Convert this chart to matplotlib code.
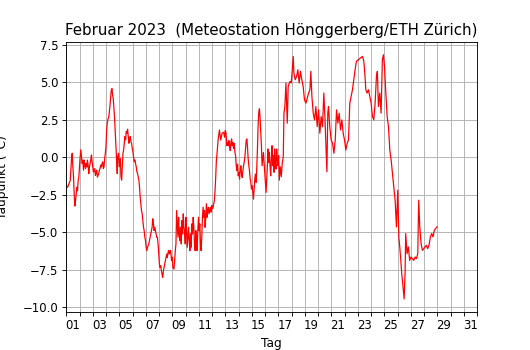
import numpy as np
import matplotlib.pyplot as plt

# Taupunkt Februar 2023, Tage seit 1. Feb 00:00
tag_w1 = [0.00, 0.10, 0.20, 0.30, 0.35, 0.40, 0.45, 0.50, 0.55, 0.60, 0.65, 0.70, 0.75, 0.80, 0.85, 0.90, 0.95,
          1.00, 1.05, 1.10, 1.15, 1.20, 1.25, 1.30, 1.35, 1.40, 1.45, 1.50, 1.55, 1.60, 1.65, 1.70, 1.75, 1.80, 1.85, 1.90, 1.95,
          2.00, 2.05, 2.10, 2.15, 2.20, 2.25, 2.30, 2.35, 2.40, 2.45, 2.50, 2.55, 2.60, 2.65, 2.70, 2.75, 2.80, 2.85, 2.90, 2.95,
          3.00, 3.05, 3.10, 3.15, 3.20, 3.25, 3.30, 3.35, 3.40, 3.45, 3.50, 3.55, 3.60, 3.65, 3.70, 3.75, 3.80, 3.85, 3.88, 3.95,
          4.00, 4.08, 4.13, 4.18, 4.23, 4.28, 4.33, 4.38, 4.43, 4.48, 4.53, 4.58, 4.63, 4.68, 4.73, 4.78, 4.83, 4.88, 4.93, 4.98,
          5.03, 5.08, 5.13, 5.18, 5.23, 5.28, 5.33, 5.38, 5.43, 5.48, 5.53, 5.58, 5.63, 5.68, 5.73, 5.78, 5.83, 5.88, 5.93, 5.98,
          6.03, 6.08, 6.13, 6.18, 6.23, 6.28, 6.33, 6.38, 6.43, 6.48, 6.53, 6.58, 6.63, 6.68, 6.73, 6.78, 6.83, 6.88, 6.93, 6.98]
tp_w1 = [-1.89, -2.0, -1.77, -1.55, -0.86, -0.07, 0.27, -0.64, -1.32, -2.45, -3.25, -2.9, -2.45, -2.0, -2.23, -1.55, -1.32,
         -0.64, 0.05, 0.5, 0.05, -0.41, -0.18, -0.86, -0.18, -0.52, -0.75, -0.41, -0.64, -0.18, -0.52, -1.09, -0.64, -0.41, -0.18, 0.16, -0.3,
         -0.64, -0.98, -0.86, -0.75, -1.2, -0.98, -0.86, -1.32, -1.2, -1.09, -0.86, -0.75, -0.52, -0.64, -0.41, -0.3, -0.75, -0.64, -0.07, 0.27,
         0.73, 1.86, 2.32, 2.55, 2.66, 3.0, 3.45, 4.02, 4.48, 4.59, 4.14, 3.91, 3.23, 2.55, 1.64, 0.73, -0.18, -1.09, 0.04, 0.27,
         -0.63, -0.07, -1.3, -1.52, -0.63, 0.27, 0.49, 0.94, 1.39, 1.17, 1.73, 1.61, 1.88, 1.39, 0.94, 1.28, 1.39, 1.05, 0.94, 0.61,
         0.38, 0.04, -0.29, -0.18, -0.4, -0.63, -0.96, -1.08, -1.3, -1.52, -1.97, -2.65, -3.09, -3.54, -3.77, -4.22, -4.66, -4.89, -5.34, -5.56,
         -6.01, -6.23, -6.01, -5.9, -5.78, -5.56, -5.34, -5.11, -4.89, -4.66, -4.1, -4.44, -4.89, -4.66, -4.89, -5.11, -5.34, -5.34, -5.78, -6.46]

tag_w2 = [7.03, 7.08, 7.13, 7.18, 7.23, 7.28, 7.33, 7.38, 7.43, 7.48, 7.53, 7.58, 7.63, 7.68, 7.73, 7.78, 7.83, 7.88, 7.95,
          8.00, 8.05, 8.13, 8.18, 8.23, 8.28, 8.33, 8.38, 8.43, 8.48, 8.53, 8.58, 8.63, 8.68, 8.73, 8.78, 8.83, 8.88, 8.93, 8.98,
          9.03, 9.08, 9.13, 9.18, 9.23, 9.28, 9.33, 9.38, 9.43, 9.48, 9.53, 9.58, 9.63, 9.68, 9.73, 9.78, 9.83, 9.88, 9.93, 9.98,
          10.03, 10.08, 10.13, 10.18, 10.23, 10.28, 10.33, 10.38, 10.43, 10.48, 10.53, 10.58, 10.63, 10.68, 10.73, 10.78, 10.83, 10.88, 10.93, 10.98,
          11.03, 11.08, 11.13, 11.18, 11.23, 11.28, 11.33, 11.38, 11.46, 11.56, 11.66, 11.76, 11.88, 11.95,
          12.00, 12.05, 12.13, 12.18, 12.23, 12.28, 12.33, 12.38, 12.43, 12.48, 12.53, 12.58, 12.63, 12.68, 12.73, 12.78, 12.83, 12.88, 12.93, 12.98,
          13.03, 13.08, 13.13, 13.18, 13.23, 13.28, 13.33, 13.38, 13.43, 13.48, 13.53, 13.58, 13.63, 13.68, 13.73, 13.78, 13.83, 13.88, 13.93, 13.98]
tp_w2 = [-7.13, -7.35, -7.24, -7.58, -7.8, -8.03, -7.58, -7.35, -7.13, -6.91, -6.68, -6.46, -6.68, -6.35, -6.23, -6.46, -6.23, -6.23, -6.9,
         -6.67, -7.34, -7.46, -6.9, -6.23, -5.78, -3.55, -4.44, -5.33, -4.0, -5.11, -5.56, -4.67, -5.78, -4.22, -5.11, -3.77, -4.67, -4.89, -5.78,
         -4.0, -4.89, -6.0, -5.33, -4.67, -5.56, -6.23, -5.11, -6.0, -4.44, -5.11, -4.0, -4.67, -5.78, -6.23, -4.89, -5.78, -6.23, -4.89, -4.0,
         -4.89, -4.44, -5.78, -6.23, -5.33, -4.0, -3.33, -4.0, -3.55, -4.67, -4.0, -3.1, -4.0, -3.55, -3.33, -3.77, -3.55, -3.33, -3.66, -3.21,
         -3.44, -3.33, -3.1, -2.88, -2.21, -1.32, -0.2, 0.25, 1.16, 1.83, 1.16, 1.61, 1.67, 1.34,
         1.79, 1.67, 0.78, 1.0, 0.78, 1.12, 0.67, 0.45, 1.0, 1.23, 0.78, 1.0, 0.6, 0.92, 0.33, 0.11, -0.56, -0.89, -0.45, -1.23,
         -1.0, -1.45, -0.78, -0.56, -1.12, -1.34, -0.89, -0.56, -0.33, 0.0, 0.56, 1.12, 1.23, 0.67, -0.11, -0.56, -0.89, -1.45, -1.67, -2.12]

tag_w3 = [14.03, 14.08, 14.13, 14.18, 14.23, 14.28, 14.33, 14.38, 14.43, 14.48, 14.53, 14.58, 14.63, 14.68, 14.73, 14.78, 14.83, 14.88, 14.93, 14.98,
          15.03, 15.08, 15.13, 15.18, 15.23, 15.28, 15.33, 15.38, 15.43, 15.48, 15.53, 15.58, 15.63, 15.68, 15.73, 15.78, 15.83, 15.88, 15.93, 15.98,
          16.03, 16.08, 16.15, 16.23, 16.30, 16.38, 16.43, 16.50, 16.58, 16.68, 16.75, 16.88, 16.98,
          17.06, 17.13, 17.18, 17.28, 17.38, 17.48, 17.58, 17.68, 17.78, 17.88, 17.98,
          18.09, 18.19, 18.29, 18.39, 18.46, 18.54, 18.64, 18.74, 18.84, 18.94,
          19.04, 19.14, 19.24, 19.34, 19.44, 19.52, 19.59, 19.67, 19.74, 19.79, 19.89, 19.99,
          20.10, 20.20, 20.30, 20.40, 20.50, 20.60, 20.70, 20.80, 20.90]
tp_w3 = [-1.9, -2.34, -2.79, -2.12, -1.45, -1.12, -1.67, -0.67, 0.56, 2.12, 3.01, 3.24, 2.57, 1.67, 0.78, -0.56, -0.11, 0.33, -0.33, -1.0,
         -1.67, -2.34, -1.45, -0.56, 0.56, -0.33, 0.33, -0.56, -1.23, -0.11, 0.78, -0.56, 0.11, -1.0, 0.56, -0.33, -0.78, 0.56, -0.11, -0.56,
         0.11, -1.52, -0.63, -1.29, -0.4, 0.04, 2.95, 3.39, 4.96, 2.28, 4.73, 5.07, 4.96,
         5.85, 6.74, 5.63, 5.18, 5.4, 5.85, 4.96, 5.74, 5.18, 4.73, 3.84,
         3.62, 3.95, 4.29, 4.51, 5.74, 4.06, 2.95, 2.5, 3.39, 2.05,
         3.17, 1.61, 2.72, 2.05, 4.29, 2.72, 0.94, -0.96, 2.95, 3.39, 2.05, 1.16,
         0.94, 0.27, 1.16, 3.17, 2.28, 2.95, 1.83, 2.5, 1.61]

tag_w4 = [21.00, 21.10, 21.20, 21.30, 21.40, 21.50, 21.60, 21.70, 21.80, 21.90,
          22.05, 22.21, 22.36, 22.46, 22.53, 22.61, 22.71, 22.81, 22.91,
          23.01, 23.11, 23.21, 23.31, 23.41, 23.48, 23.56, 23.66, 23.76, 23.86, 23.94,
          24.02, 24.12, 24.22, 24.32, 24.42, 24.52, 24.62, 24.72, 24.82, 24.92,
          25.02, 25.10, 25.17, 25.25, 25.32, 25.42, 25.50, 25.57, 25.62, 25.72, 25.82, 25.92,
          26.02, 26.13, 26.23, 26.33, 26.43, 26.53, 26.60, 26.68, 26.78, 26.88, 26.98,
          27.08, 27.18, 27.28, 27.38, 27.48, 27.58, 27.68, 27.78, 27.88, 27.98]
tp_w4 = [1.16, 0.49, 0.94, 1.16, 3.62, 4.06, 4.51, 5.18, 5.85, 6.41,
         6.52, 6.63, 6.74, 6.41, 5.63, 4.51, 4.29, 4.51, 4.06,
         3.62, 2.72, 2.5, 3.62, 5.4, 5.74, 3.39, 4.29, 2.95, 6.52, 6.85,
         6.07, 4.29, 2.72, 2.05, 0.49, -0.18, -1.07, -1.96, -2.86, -4.64,
         -2.19, -5.31, -5.98, -6.88, -7.77, -8.66, -9.45, -7.77, -5.09, -6.43, -5.98, -6.88,
         -6.65, -6.76, -6.88, -6.65, -6.76, -6.43, -2.86, -4.64, -5.76, -6.21, -6.09,
         -5.98, -5.87, -6.09, -5.87, -5.31, -5.09, -5.31, -4.87, -4.75, -4.64]

tag = tag_w1 + tag_w2 + tag_w3 + tag_w4
taupunkt = tp_w1 + tp_w2 + tp_w3 + tp_w4

tag_labels = ["%02d" % d for d in range(1, 32, 2)]
y_ticks = [-10.0, -7.5, -5.0, -2.5, 0.0, 2.5, 5.0, 7.5]

fig, ax = plt.subplots(figsize=(6.625, 4.375), dpi=80)
ax.plot(tag, taupunkt, color='red', linewidth=1.1)

ax.set_xlim(0, 31)
ax.set_ylim(-10.29, 7.7)
ax.set_yticks(y_ticks)
# Gitter/Striche um Mitternacht, Beschriftung mittig im Tag
ax.set_xticks(np.arange(0, 32))
ax.set_xticklabels([])
ax.set_xticks(np.arange(0.5, 31, 2), minor=True)
ax.set_xticklabels(tag_labels, minor=True)
ax.tick_params(axis='x', which='minor', length=3.5, color=(0, 0, 0, 0))
ax.tick_params(axis='both', which='both', labelsize=10.5)
ax.grid(True)

ax.set_title('Februar 2023  (Meteostation Hönggerberg/ETH Zürich)', fontsize=13.5)
ax.set_xlabel('Tag', fontsize=11)
ax.set_ylabel('Taupunkt (°C)', fontsize=11, labelpad=12)

plt.savefig('out.png', dpi=80)
